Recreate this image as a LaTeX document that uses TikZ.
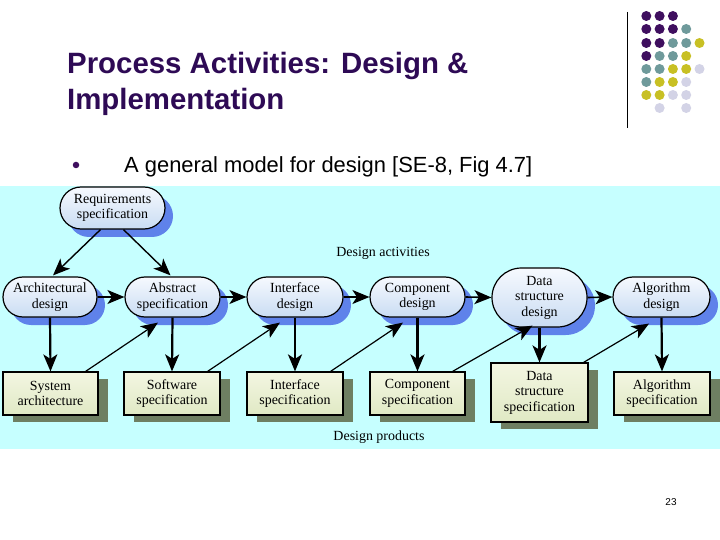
\documentclass[tikz,border=0pt]{standalone}
\usepackage{fontspec}
\setmainfont{Liberation Serif}
\newfontfamily\arialfont{Liberation Sans}
\usetikzlibrary{shapes.misc,arrows.meta,shadows,calc}
\definecolor{titlecol}{HTML}{2E0A55}
\definecolor{dpurple}{HTML}{3F0F5F}
\definecolor{dteal}{HTML}{6F9A9B}
\definecolor{dyellow}{HTML}{C8C024}
\definecolor{dlav}{HTML}{D3D3E6}
\definecolor{bgcyan}{HTML}{C6FFFF}
\definecolor{pillshadow}{HTML}{5F82EA}
\definecolor{pilltop}{HTML}{F6F9FE}
\definecolor{pillbot}{HTML}{C9DCF3}
\definecolor{boxtop}{HTML}{F3F6E2}
\definecolor{boxbot}{HTML}{E0E9C4}
\definecolor{boxshadow}{HTML}{6E7F62}
\begin{document}
\begin{tikzpicture}[x=1bp,y=-1bp,
  activity/.style={rounded rectangle, draw=black, line width=1.2bp,
    top color=pilltop, bottom color=pillbot, align=center,
    font=\fontsize{14}{15.5}\selectfont, inner sep=0pt,
    drop shadow={shadow xshift=8bp, shadow yshift=-8bp, fill=pillshadow, opacity=1}},
  product/.style={rectangle, draw=black, line width=1.2bp,
    top color=boxtop, bottom color=boxbot, align=center,
    font=\fontsize{14}{15.5}\selectfont, inner sep=0pt,
    drop shadow={shadow xshift=10bp, shadow yshift=-7bp, fill=boxshadow, opacity=1}},
  tip/.style={-{Stealth[length=17bp,width=14bp,inset=4.5bp]}},
  harrow/.style={tip, line width=1.6bp},
  varrow/.style={tip, line width=2.2bp},
  darrow/.style={tip, line width=1.2bp},
  dot/.style={circle, inner sep=0pt, minimum size=10bp},
  lbl/.style={font=\fontsize{14}{15}\selectfont}
]
\useasboundingbox (0,0) rectangle (720,540);
\fill[white] (0,0) rectangle (720,540);

% decorative dots
\draw[line width=0.8bp] (627,12) coordinate (vlt) -- (627,128) coordinate (vlb);
\foreach \r/\y/\cols in {0/16/{1/dpurple,2/dpurple,3/dpurple},
  1/29/{1/dpurple,2/dpurple,3/dpurple,4/dteal},
  2/43/{1/dpurple,2/dpurple,3/dteal,4/dteal,5/dyellow},
  3/56/{1/dpurple,2/dteal,3/dteal,4/dyellow},
  4/69/{1/dteal,2/dteal,3/dyellow,4/dyellow,5/dlav},
  5/82/{1/dteal,2/dyellow,3/dyellow,4/dlav},
  6/95/{1/dyellow,2/dyellow,3/dlav,4/dlav},
  7/108/{2/dlav,4/dlav}}{
  \foreach \c/\col in \cols {
    \node[dot, fill=\col] (d\r\c) at ({633+13.3*\c},\y) {};
  }
}

% title
\node[anchor=base west, inner sep=0pt, text=titlecol, font=\arialfont\bfseries\fontsize{29.5}{35}\selectfont] (t1) at (67,74) {Process Activities: Design \&};
\node[anchor=base west, inner sep=0pt, text=titlecol, font=\arialfont\bfseries\fontsize{29.5}{35}\selectfont] (t2) at (67,110) {Implementation};

% bullet
\node[circle, fill=dpurple, inner sep=0pt, minimum size=6.5bp] (bul) at (76,165) {};
\node[anchor=base west, inner sep=0pt, font=\arialfont\fontsize{22}{26}\selectfont] (btxt) at (124,172.5) {A general model for design [SE-8, Fig 4.7]};

% background of the figure
\fill[bgcyan] (0,186) rectangle (720,449);

% activities
\node[activity, minimum width=105bp, minimum height=42bp] (req) at (112.5,208) {Requirements\\specification};
\node[activity, minimum width=94bp, minimum height=40bp] (arch) at (50,297) {Architectural\\design};
\node[activity, minimum width=95bp, minimum height=40bp] (abs) at (172.5,297) {Abstract\\specification};
\node[activity, minimum width=96bp, minimum height=40bp] (intd) at (295,297) {Interface\\design};
\node[activity, minimum width=95bp, minimum height=40bp] (comp) at (417.5,297) {Component\\design};
\node[activity, minimum width=95bp, minimum height=59bp] (data) at (539.5,297.5) {Data\\structure\\design};
\node[activity, minimum width=97bp, minimum height=40bp] (algo) at (661.5,297) {Algorithm\\design};

% products
\node[product, minimum width=95bp, minimum height=43bp] (sysa) at (50.5,393.5) {System\\architecture};
\node[product, minimum width=96bp, minimum height=43bp] (soft) at (172,393.5) {Software\\specification};
\node[product, minimum width=96bp, minimum height=43bp] (ints) at (295,393.5) {Interface\\specification};
\node[product, minimum width=95bp, minimum height=43bp] (comps) at (417.5,393.5) {Component\\specification};
\node[product, minimum width=97bp, minimum height=59bp] (datas) at (539.5,392.5) {Data\\structure\\specification};
\node[product, minimum width=96bp, minimum height=43bp] (algs) at (662,393.5) {Algorithm\\specification};

% labels
\node[lbl] (lact) at (383,253) {Design activities};
\node[lbl] (lprod) at (379,437) {Design products};

% arrows from requirements
\draw[darrow, line width=1.4bp] ($(req.south)+(-12,0)$) -- ($(arch.north)+(3,-1)$);
\draw[darrow, line width=1.4bp] ($(req.south)+(11,0)$) -- ($(abs.north)+(-2,-1)$);

% horizontal arrows
\draw[harrow] (arch.east) -- (abs.west);
\draw[harrow] (abs.east) -- (intd.west);
\draw[harrow] (intd.east) -- (comp.west);
\draw[harrow] (comp.east) -- (data.west);
\draw[harrow] (data.east) -- (algo.west);

% vertical arrows
\draw[varrow] (arch.south) -- (sysa.north);
\draw[varrow] (abs.south) -- (soft.north);
\draw[varrow] (intd.south) -- (ints.north);
\draw[varrow] (comp.south) -- (comps.north);
\draw[varrow] (data.south) -- (datas.north);
\draw[varrow] (algo.south) -- (algs.north);

% diagonal arrows
\draw[darrow] ($(sysa.north east)+(-13,0)$) -- ($(abs.south west)+(13,5)$);
\draw[darrow] ($(soft.north east)+(-13,0)$) -- ($(intd.south west)+(13,5)$);
\draw[darrow] ($(ints.north east)+(-13,0)$) -- ($(comp.south west)+(13,5)$);
\draw[darrow] ($(comps.north east)+(-13,0)$) -- ($(data.south west)+(11,-2)$);
\draw[darrow] ($(datas.north east)+(-5,0)$) -- ($(algo.south west)+(16,6)$);

% page number
\node[font=\arialfont\fontsize{10}{12}\selectfont] (pnum) at (671,502) {23};
\end{tikzpicture}
\end{document}
